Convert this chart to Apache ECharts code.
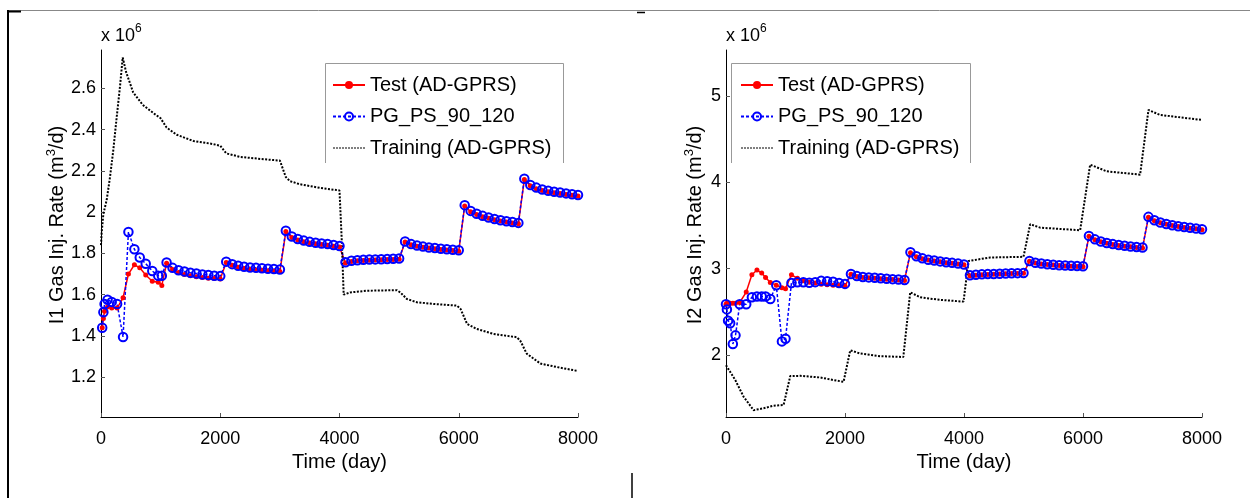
<!DOCTYPE html>
<html>
<head>
<meta charset="utf-8">
<script src="https://cdn.jsdelivr.net/npm/echarts@6/dist/echarts.min.js"></script>
<style>
html,body{margin:0;padding:0;background:#fff;}
#chart{width:1250px;height:498px;}
</style>
</head>
<body>
<div id="chart"></div>
<script>
// ---------- DATA (values in 10^6 m3/d) ----------
const seriesNames = ['Test (AD-GPRS)', 'PG_PS_90_120', 'Training (AD-GPRS)'];
const xTicks = [0, 2000, 4000, 6000, 8000];
const i1YTicks = [1.2, 1.4, 1.6, 1.8, 2.0, 2.2, 2.4, 2.6];
const i2YTicks = [2, 3, 4, 5];

const laterTimes = [1100,1200,1300,1400,1500,1600,1700,1800,1900,2000,
  2100,2200,2300,2400,2500,2600,2700,2800,2900,3000,
  3100,3200,3300,3400,3500,3600,3700,3800,3900,4000,
  4100,4200,4300,4400,4500,4600,4700,4800,4900,5000,
  5100,5200,5300,5400,5500,5600,5700,5800,5900,6000,
  6100,6200,6300,6400,6500,6600,6700,6800,6900,7000,
  7100,7200,7300,7400,7500,7600,7700,7800,7900,8000];

// I1 (left)
const i1EarlyTimes = [20, 40, 60, 110, 180, 270, 370, 460, 560, 650, 750, 860, 960, 1020];
const i1Test = [1.44, 1.485, 1.52, 1.54, 1.535, 1.535, 1.585, 1.70, 1.745, 1.73, 1.695, 1.665, 1.66, 1.645,
  1.752, 1.722, 1.707, 1.698, 1.692, 1.687, 1.683, 1.68, 1.678, 1.676,
  1.756, 1.742, 1.733, 1.727, 1.723, 1.72, 1.718, 1.716, 1.714, 1.712,
  1.906, 1.877, 1.865, 1.857, 1.851, 1.847, 1.843, 1.839, 1.835, 1.831,
  1.754, 1.761, 1.764, 1.766, 1.767, 1.768, 1.769, 1.77, 1.771, 1.772,
  1.855, 1.842, 1.835, 1.83, 1.826, 1.822, 1.819, 1.816, 1.814, 1.811,
  2.03, 2.002, 1.988, 1.978, 1.97, 1.963, 1.957, 1.952, 1.948, 1.944,
  2.158, 2.128, 2.114, 2.105, 2.099, 2.094, 2.09, 2.086, 2.082, 2.078];
const i1PG = [1.44, 1.515, 1.555, 1.575, 1.565, 1.555, 1.395, 1.904, 1.82, 1.78, 1.75, 1.715, 1.692, 1.692,
  1.756, 1.73, 1.718, 1.712, 1.706, 1.703, 1.698, 1.695, 1.692, 1.69,
  1.76, 1.748, 1.74, 1.735, 1.732, 1.73, 1.728, 1.726, 1.724, 1.722,
  1.91, 1.882, 1.87, 1.862, 1.856, 1.852, 1.848, 1.845, 1.841, 1.836,
  1.757, 1.764, 1.767, 1.769, 1.77, 1.771, 1.772, 1.773, 1.774, 1.775,
  1.858, 1.845, 1.838, 1.833, 1.829, 1.826, 1.823, 1.82, 1.818, 1.815,
  2.034, 2.006, 1.992, 1.982, 1.974, 1.967, 1.961, 1.956, 1.952, 1.948,
  2.162, 2.132, 2.119, 2.11, 2.104, 2.099, 2.095, 2.091, 2.087, 2.083];
const i1TrainTimes = [0, 11, 39, 96, 151, 206, 263, 319, 364, 420, 540, 700, 880, 1000, 1100, 1270, 1550, 1880, 2000,
  2100, 2330, 2670, 3000, 3100, 3170, 3340, 3670, 4000, 4040, 4070, 4180, 4460, 4960, 5020, 5130, 5300, 5580,
  5970, 6030, 6140, 6300, 6580, 6970, 7030, 7140, 7370, 7700, 8000];
const i1Train = [1.84, 1.90, 1.99, 2.06, 2.17, 2.30, 2.46, 2.61, 2.75, 2.68, 2.58, 2.52, 2.48, 2.455, 2.41, 2.375, 2.345, 2.33, 2.322,
  2.285, 2.268, 2.258, 2.25, 2.17, 2.15, 2.135, 2.118, 2.105, 1.85, 1.60, 1.611, 1.619, 1.622, 1.611, 1.579, 1.563, 1.555,
  1.547, 1.531, 1.458, 1.434, 1.41, 1.394, 1.378, 1.314, 1.266, 1.246, 1.23];

// I2 (right)
const i2EarlyTimes = [0, 15, 35, 70, 115, 160, 230, 340, 435, 520, 600, 665, 745, 845, 940, 1000];
const i2Test = [2.59, 2.60, 2.60, 2.60, 2.60, 2.60, 2.61, 2.73, 2.93, 2.985, 2.95, 2.90, 2.84, 2.81, 2.78, 2.77,
  2.93, 2.89, 2.86, 2.845, 2.835, 2.82, 2.815, 2.81, 2.805, 2.80,
  2.935, 2.91, 2.90, 2.895, 2.89, 2.885, 2.88, 2.875, 2.87, 2.865,
  3.185, 3.14, 3.115, 3.10, 3.09, 3.08, 3.07, 3.063, 3.055, 3.045,
  2.92, 2.926, 2.931, 2.934, 2.937, 2.94, 2.942, 2.944, 2.946, 2.947,
  3.086, 3.066, 3.056, 3.048, 3.042, 3.037, 3.033, 3.03, 3.027, 3.024,
  3.375, 3.336, 3.311, 3.294, 3.281, 3.27, 3.261, 3.254, 3.247, 3.241,
  3.595, 3.556, 3.531, 3.513, 3.499, 3.488, 3.478, 3.469, 3.461, 3.452];
const i2PG = [2.59, 2.53, 2.40, 2.37, 2.13, 2.23, 2.59, 2.59, 2.67, 2.68, 2.68, 2.68, 2.65, 2.81, 2.16, 2.19,
  2.835, 2.843, 2.843, 2.838, 2.845, 2.86, 2.855, 2.85, 2.835, 2.825,
  2.94, 2.915, 2.905, 2.90, 2.895, 2.89, 2.885, 2.88, 2.875, 2.87,
  3.19, 3.145, 3.12, 3.105, 3.095, 3.085, 3.075, 3.068, 3.06, 3.05,
  2.925, 2.93, 2.935, 2.938, 2.94, 2.943, 2.945, 2.947, 2.949, 2.95,
  3.09, 3.07, 3.06, 3.052, 3.046, 3.041, 3.037, 3.034, 3.031, 3.028,
  3.38, 3.34, 3.315, 3.298, 3.285, 3.274, 3.265, 3.258, 3.251, 3.245,
  3.60, 3.56, 3.535, 3.517, 3.503, 3.492, 3.482, 3.473, 3.465, 3.456];
const i2TrainTimes = [0, 17, 156, 296, 464, 632, 800, 968, 1000, 1080, 1248, 1584, 1808, 1976, 2000,
  2088, 2256, 2592, 2980, 3096, 3264, 3600, 3992, 4076, 4440, 5000, 5112, 5280, 5952, 6120, 6400, 6960,
  7100, 7296, 8000];
const i2Train = [1.885, 1.88, 1.713, 1.52, 1.365, 1.387, 1.417, 1.425, 1.43, 1.759, 1.762, 1.743, 1.713, 1.693, 1.70,
  2.057, 2.02, 1.989, 1.98, 2.728, 2.67, 2.64, 2.62, 3.09, 3.13, 3.138, 3.514, 3.475, 3.445, 4.203, 4.126, 4.088,
  4.836, 4.778, 4.72];

// ---------- BUILD ----------
function zip(t, v) { return t.map((x, i) => [x, v[i]]); }
const i1Times = i1EarlyTimes.concat(laterTimes);
const i2Times = i2EarlyTimes.concat(laterTimes);
const FONT = 'Liberation Sans';

function xAxis(idx) {
  return {
    type: 'value', gridIndex: idx, min: 0, max: 8000, interval: 2000,
    axisLine: { show: true, onZero: false, lineStyle: { color: '#000', width: 1 } },
    axisTick: { show: true, inside: true, length: 4, customValues: xTicks, lineStyle: { color: '#555' } },
    axisLabel: { color: '#000', fontSize: 18, fontFamily: FONT, margin: 13, customValues: xTicks,
      formatter: v => String(v) },
    splitLine: { show: false },
    name: 'Time (day)', nameLocation: 'middle', nameGap: 34,
    nameTextStyle: { color: '#000', fontSize: 20, fontFamily: FONT }
  };
}
function yAxis(idx, min, max, ticks) {
  return {
    type: 'value', gridIndex: idx, min: min, max: max,
    axisLine: { show: true, onZero: false, lineStyle: { color: '#000', width: 1 } },
    axisTick: { show: true, inside: true, length: 4, customValues: ticks, lineStyle: { color: '#555' } },
    axisLabel: { color: '#000', fontSize: 18, fontFamily: FONT, margin: 5, customValues: ticks,
      formatter: v => String(+v.toFixed(1)) },
    splitLine: { show: false }
  };
}
function mk(idx, times, test, pg, trT, tr) {
  return [
    { name: seriesNames[0], type: 'line', xAxisIndex: idx, yAxisIndex: idx, data: zip(times, test),
      symbol: 'circle', symbolSize: 5, color: '#ff0000',
      itemStyle: { color: '#ff0000' }, lineStyle: { color: '#ff0000', width: 1.5 } },
    { name: seriesNames[1], type: 'line', xAxisIndex: idx, yAxisIndex: idx, data: zip(times, pg),
      symbol: 'circle', symbolSize: 8.5, color: '#0000ff',
      itemStyle: { color: 'rgba(255,255,255,0)', borderColor: '#0000ff', borderWidth: 2 },
      lineStyle: { color: '#0000ff', width: 1.5, type: [3, 2] } },
    { name: seriesNames[2], type: 'line', xAxisIndex: idx, yAxisIndex: idx, data: zip(trT, tr),
      symbol: 'none', color: '#000',
      lineStyle: { color: '#000', width: 2, type: [2, 1.5] } }
  ];
}
function legend(left) {
  return {
    left: left, top: 75, orient: 'vertical', padding: 0, itemWidth: 32, itemHeight: 10, itemGap: 11.5,
    textStyle: { color: '#000', fontSize: 20, fontFamily: FONT, lineHeight: 20 },
    data: [seriesNames[0], seriesNames[1], {
      name: seriesNames[2],
      itemStyle: { color: 'rgba(0,0,0,0)', borderColor: 'rgba(0,0,0,0)', borderWidth: 0 },
      lineStyle: { color: '#000', width: 1, type: [2, 1] }
    }],
    selectedMode: false
  };
}
function ytitle(x, label) {
  return {
    type: 'text', x: x, y: 225, rotation: Math.PI / 2,
    style: {
      text: '{a|' + label + ' Gas Inj. Rate (m}{s|3}{a|/d)}',
      align: 'center', verticalAlign: 'middle',
      rich: {
        a: { fontSize: 20, fontFamily: FONT, fill: '#000', lineHeight: 24 },
        s: { fontSize: 13, fontFamily: FONT, fill: '#000', verticalAlign: 'top', lineHeight: 13 }
      }
    }
  };
}
function scaleText(x) {
  return {
    type: 'text', x: x, y: 36,
    style: {
      text: '{a|x 10}{s|6}', align: 'left', verticalAlign: 'middle',
      rich: {
        a: { fontSize: 18, fontFamily: FONT, fill: '#000', lineHeight: 26 },
        s: { fontSize: 12, fontFamily: FONT, fill: '#000', verticalAlign: 'top', lineHeight: 12 }
      }
    }
  };
}
function legendBox(x1, x2) {
  return { type: 'polyline', z: -1, shape: { points: [[x1, 163], [x1, 63.5], [x2, 63.5], [x2, 163]] },
    style: { stroke: '#999', lineWidth: 1, fill: null } };
}

const chart = echarts.init(document.getElementById('chart'), null, { renderer: 'canvas' });
chart.setOption({
  animation: false,
  backgroundColor: '#fff',
  grid: [
    { left: 101, top: 50, width: 477, height: 367 },
    { left: 726, top: 50, width: 476, height: 367 }
  ],
  xAxis: [xAxis(0), xAxis(1)],
  yAxis: [yAxis(0, 1.007, 2.786, i1YTicks), yAxis(1, 1.286, 5.529, i2YTicks)],
  legend: [legend(332), legend(740)],
  series: mk(0, i1Times, i1Test, i1PG, i1TrainTimes, i1Train)
    .concat(mk(1, i2Times, i2Test, i2PG, i2TrainTimes, i2Train)),
  graphic: [
    { type: 'line', shape: { x1: 8, y1: 10.5, x2: 1250, y2: 10.5 }, style: { stroke: '#888', lineWidth: 1 } },
    { type: 'line', shape: { x1: 8, y1: 10, x2: 8, y2: 498 }, style: { stroke: '#000', lineWidth: 2 } },
    { type: 'line', shape: { x1: 8, y1: 11.5, x2: 21, y2: 11.5 }, style: { stroke: '#000', lineWidth: 2 } },
    { type: 'line', shape: { x1: 637, y1: 12.5, x2: 645, y2: 12.5 }, style: { stroke: '#000', lineWidth: 1.5 } },
    { type: 'line', shape: { x1: 632, y1: 473, x2: 632, y2: 498 }, style: { stroke: '#000', lineWidth: 1.5 } },
    legendBox(325.5, 563.5),
    legendBox(731.5, 970.5),
    ytitle(57, 'I1'),
    ytitle(695, 'I2'),
    scaleText(101),
    scaleText(726)
  ]
});
</script>
</body>
</html>
